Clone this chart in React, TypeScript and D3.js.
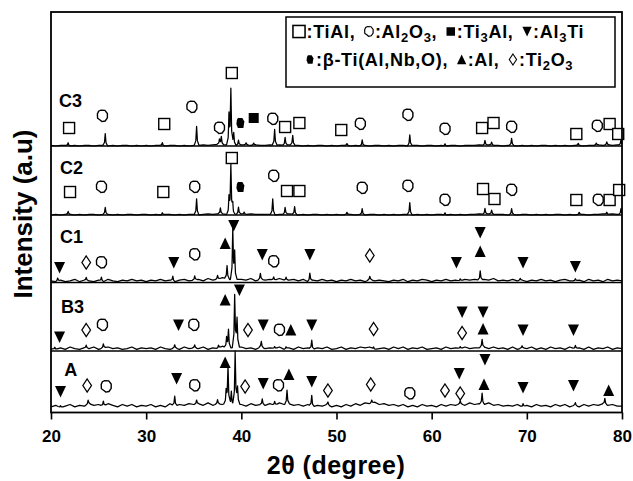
import React, { useRef, useEffect } from 'react';
import * as d3 from 'd3';

// stacked XRD patterns, top to bottom
const samples = ['C3', 'C2', 'C1', 'B3', 'A'];
const offsets = [266.5, 197.5, 130, 61.5, 4]; // vertical shift of each pattern (a.u.)
const xTicks = [20, 30, 40, 50, 60, 70, 80];

// peaks: [2theta, height]
const peaksC3 = [[21.8, 3], [25.7, 12], [31.7, 3], [35.3, 19], [37.7, 5], [37.9, 8], [38.7, 29], [38.9, 55], [39.2, 13], [39.7, 5], [40.5, 2], [41.3, 2], [43.5, 16], [44.6, 8], [45.4, 10], [51.1, 2], [52.7, 6], [57.7, 11], [61.4, 2], [65.6, 5], [66.3, 3], [68.4, 7], [75.4, 2], [77.3, 2], [78.4, 3], [79.9, 6]];
const peaksC2 = [[21.8, 3], [25.7, 7], [31.7, 2], [35.3, 16], [37.8, 6], [38.7, 16], [38.9, 48], [39.1, 9], [39.7, 7], [40.3, 2], [43.3, 16], [44.6, 7], [45.6, 8], [51.1, 2], [52.7, 6], [57.7, 12], [61.4, 2], [65.6, 6], [66.3, 4], [68.4, 6], [75.5, 2], [78.4, 2], [79.9, 6]];
const peaksC1 = [[20.7, 3], [23.7, 3], [25.3, 4], [32.8, 5], [35.1, 4], [37.5, 4], [38.5, 13], [39.1, 50], [39.3, 26], [42.0, 6], [43.4, 3], [44.7, 3], [47.2, 8], [53.5, 3], [63.0, 2], [65.1, 9], [69.3, 2], [75.1, 2]];
const peaksB3 = [[20.4, 2], [23.7, 3], [25.5, 4], [33.0, 3], [35.1, 3], [37.6, 3], [38.45, 10], [38.65, 18], [39.3, 53], [39.55, 30], [42.1, 6], [43.5, 2], [44.7, 2], [47.4, 9], [53.9, 2], [63.0, 2], [65.3, 8], [69.5, 2], [75.1, 3]];
const peaksA = [[21.0, 2], [23.9, 4], [25.5, 5], [33.0, 10], [35.3, 4], [37.5, 4], [38.4, 12], [38.6, 37], [38.95, 14], [39.35, 53], [39.6, 18], [42.2, 6], [43.5, 4], [44.8, 14], [47.4, 11], [49.1, 3], [53.7, 3], [63.0, 3], [65.3, 11], [69.6, 3], [75.1, 3], [78.2, 6]];

// baseline roughness, one digit per 0.5 deg from 20 to 80
const noiseC3 = '1011010110' + '1101011010' + '1011011010' + '1121232211' + '2212112121' + '2110101101' + '0110101011' + '0101101101' + '1010110111' + '2121101101' + '0101101010' + '1101121212' + '1';
const noiseC2 = '0101101011' + '0110101101' + '1010110101' + '1012122121' + '2121111011' + '2101011010' + '1011010110' + '1010110101' + '0110101011' + '2121110101' + '1010101101' + '0110112121' + '1';
const noiseC1 = '2131241321' + '3142132423' + '1324231342' + '3425346534' + '4352434353' + '3424132423' + '1324231423' + '2132413243' + '1324232434' + '3435232423' + '1324231342' + '2314231423' + '2';
const noiseB3 = '3242532435' + '2453423524' + '3425324253' + '4352436445' + '5342534352' + '4253424352' + '3524354523' + '4253524352' + '3425343534' + '4535342524' + '3524253425' + '3425243524' + '3';
const noiseA = '2413524364' + '5364253524' + '3524263546' + '5647465746' + '5364546475' + '6453524352' + '4253647685' + '6453524253' + '4253546475' + '6574534352' + '4253425352' + '4253546453' + '3';
const noiseScale = [0.6, 0.6, 0.8, 0.8, 0.8];

// phase marks: [phase, 2theta, height above baseline]
const marksC3 = [['TiAl', 21.9, 18], ['Al2O3', 25.4, 30], ['TiAl', 31.9, 22], ['Al2O3', 34.8, 39], ['Al2O3', 37.7, 18], ['TiAl', 39.0, 73], ['beta', 39.9, 23], ['Ti3Al', 41.3, 28], ['Al2O3', 43.3, 27], ['TiAl', 44.6, 19], ['TiAl', 46.1, 23], ['TiAl', 50.5, 16], ['Al2O3', 52.5, 22], ['Al2O3', 57.5, 31], ['Al2O3', 61.4, 17], ['TiAl', 65.3, 18], ['TiAl', 66.5, 23], ['Al2O3', 68.4, 19], ['TiAl', 75.2, 12], ['Al2O3', 77.4, 20], ['TiAl', 78.7, 22], ['TiAl', 79.6, 12]];
const marksC2 = [['TiAl', 22.0, 23], ['Al2O3', 25.3, 28], ['TiAl', 31.8, 23], ['Al2O3', 35.1, 28], ['TiAl', 39.0, 57], ['beta', 39.9, 28], ['Al2O3', 43.4, 39], ['TiAl', 44.8, 24], ['TiAl', 46.1, 24], ['Al2O3', 52.7, 27], ['Al2O3', 57.5, 29], ['Al2O3', 61.4, 15], ['TiAl', 65.4, 26], ['TiAl', 66.6, 16], ['Al2O3', 68.4, 25], ['TiAl', 75.2, 15], ['Al2O3', 77.5, 15], ['TiAl', 78.7, 15], ['TiAl', 79.7, 25]];
const marksC1 = [['Al3Ti', 20.9, 15], ['Ti2O3', 23.7, 20], ['Al2O3', 25.3, 20], ['Al3Ti', 32.9, 20], ['Al2O3', 35.1, 28], ['Al', 38.3, 39], ['Al3Ti', 39.2, 57], ['Al3Ti', 42.2, 28], ['Al2O3', 43.4, 21], ['Al3Ti', 47.2, 28], ['Ti2O3', 53.5, 27], ['Al3Ti', 62.6, 20], ['Al3Ti', 65.1, 50], ['Al', 65.1, 31], ['Al3Ti', 69.6, 20], ['Al3Ti', 75.1, 16]];
const marksB3 = [['Al3Ti', 20.9, 14], ['Ti2O3', 23.7, 21], ['Al2O3', 25.4, 26], ['Al3Ti', 33.4, 26], ['Al2O3', 35.0, 26], ['Al', 38.3, 51], ['Al3Ti', 39.8, 61], ['Ti2O3', 40.7, 21], ['Al3Ti', 42.3, 26], ['Al2O3', 44.0, 21], ['Al', 45.2, 21], ['Al3Ti', 47.4, 26], ['Ti2O3', 53.9, 22], ['Al3Ti', 63.2, 39], ['Ti2O3', 63.2, 18], ['Al3Ti', 65.4, 39], ['Al', 65.4, 22], ['Al3Ti', 69.6, 21], ['Al3Ti', 74.9, 21]];
const marksA = [['Al3Ti', 21.0, 17], ['Ti2O3', 23.8, 23], ['Al2O3', 25.8, 22], ['Al3Ti', 33.2, 30], ['Al2O3', 35.1, 23], ['Al', 38.3, 46], ['Ti2O3', 40.4, 22], ['Al3Ti', 42.3, 25], ['Al2O3', 43.9, 23], ['Al', 45.0, 34], ['Al3Ti', 47.4, 27], ['Ti2O3', 49.1, 18], ['Ti2O3', 53.6, 24], ['Al2O3', 57.7, 15], ['Ti2O3', 61.4, 18], ['Al3Ti', 62.9, 35], ['Ti2O3', 63.0, 15], ['Al3Ti', 65.6, 49], ['Al', 65.5, 24], ['Al3Ti', 69.6, 21], ['Al3Ti', 74.9, 23], ['Al', 78.6, 18]];

const allPeaks = [peaksC3, peaksC2, peaksC1, peaksB3, peaksA];
const allNoise = [noiseC3, noiseC2, noiseC1, noiseB3, noiseA];
const allMarks = [marksC3, marksC2, marksC1, marksB3, marksA];

// legend rows: [phase, label] ("_n" = subscript)
const legendRow1 = [['TiAl', ' :TiAl,'], ['Al2O3', ':Al_2O_3,'], ['Ti3Al', ':Ti_3Al,'], ['Al3Ti', ':Al_3Ti']];
const legendRow2 = [['beta', ' :β-Ti(Al,Nb,O),'], ['Al', ':Al,'], ['Ti2O3', ':Ti_2O_3']];

const FONT = '"Liberation Sans", Arial, Helvetica, sans-serif';

// draws one phase symbol centred at (cx, cy)
function drawMark(g: any, phase: string, cx: number, cy: number, s = 1) {
  const t = `translate(${cx},${cy}) scale(${s})`;
  if (phase === 'TiAl') {
    g.append('rect').attr('transform', t).attr('x', -5.5).attr('y', -5.5).attr('width', 11).attr('height', 11)
      .attr('fill', '#fff').attr('stroke', '#000').attr('stroke-width', 1.4);
  } else if (phase === 'Ti3Al') {
    g.append('rect').attr('transform', t).attr('x', -5).attr('y', -5).attr('width', 10).attr('height', 10).attr('fill', '#000');
  } else if (phase === 'Al2O3') {
    g.append('path').attr('transform', t)
      .attr('d', 'M-1.5,-5.8 L2.5,-5.6 L5,-2.5 L5,1.8 L2.8,5 L-0.5,5.6 L-2,4.2 L-4.8,2.2 L-5,-2 L-3.8,-4.8 Z')
      .attr('fill', '#fff').attr('stroke', '#000').attr('stroke-width', 1.4);
  } else if (phase === 'Al3Ti') {
    g.append('path').attr('transform', t).attr('d', 'M-5.5,-5.5 L5.5,-5.5 L0,6 Z').attr('fill', '#000');
  } else if (phase === 'Al') {
    g.append('path').attr('transform', t).attr('d', 'M-5.5,5.5 L5.5,5.5 L0,-6 Z').attr('fill', '#000');
  } else if (phase === 'Ti2O3') {
    g.append('path').attr('transform', t).attr('d', 'M0,-6.5 L4.3,0 L0,6.5 L-4.3,0 Z')
      .attr('fill', '#fff').attr('stroke', '#000').attr('stroke-width', 1.3);
  } else if (phase === 'beta') {
    g.append('path').attr('transform', t).attr('d', 'M-2.5,-5 L2,-5 L4,-1.5 L3,5 L-2.5,5 L-4,1 L-3.5,-3 Z').attr('fill', '#000');
  }
}

// shape of a single reflection, t = |d| / halfwidth
const peakShape = (t: number) => (t >= 1 ? 0 : t <= 1 / 3 ? 1 - 2.25 * t : (0.25 * (1 - t)) / (2 / 3));

const App: React.FC = () => {
  const svgRef = useRef<SVGSVGElement | null>(null);

  useEffect(() => {
    if (!svgRef.current) return;
    const svg = d3.select(svgRef.current);
    svg.selectAll('*').remove();

    const x = d3.scaleLinear().domain([20, 80]).range([51, 622]);
    const y = d3.scaleLinear().domain([0, 400.5]).range([412.5, 12]);
    const hw = 0.25;

    svg.append('rect').attr('width', 633).attr('height', 481).attr('fill', '#fff');

    // separators between stacked patterns
    offsets.slice(0, 4).forEach(o => {
      svg.append('line').attr('x1', x(20)).attr('x2', x(80)).attr('y1', y(o)).attr('y2', y(o))
        .attr('stroke', '#000').attr('stroke-width', 1.5);
    });

    const line = d3.line<number[]>().x(d => x(d[0])).y(d => y(d[1]));

    samples.forEach((name, si) => {
      const noise = allNoise[si];
      const pk = allPeaks[si];
      const off = offsets[si];
      const n = noise.length;
      const amp = noiseScale[si];
      const noiseAt = (xv: number) => {
        const f = ((xv - 20) / 60) * (n - 1);
        const i0 = Math.max(0, Math.min(n - 2, Math.floor(f)));
        const fr = f - i0;
        return (+noise[i0] * (1 - fr) + +noise[i0 + 1] * fr) * amp;
      };
      const xs = new Set<number>(d3.range(n).map(i => 20 + (60 * i) / (n - 1)));
      pk.forEach(([p]) => [-hw, -hw / 3, 0, hw / 3, hw].forEach(d => {
        const v = +(p + d).toFixed(4);
        if (v >= 20 && v <= 80) xs.add(v);
      }));
      const pts = Array.from(xs).sort((a, b) => a - b)
        .map(xv => [xv, off + noiseAt(xv) + d3.sum(pk, ([p, h]) => h * peakShape(Math.abs(xv - p) / hw))]);

      svg.append('path').attr('d', line(pts)).attr('fill', 'none').attr('stroke', '#000')
        .attr('stroke-width', 1.25).attr('stroke-linejoin', 'round');

      const mg = svg.append('g');
      allMarks[si].forEach(([ph, pos, h]) => drawMark(mg, ph as string, x(pos as number), y(off + (h as number))));
    });

    // sample labels
    const labelPos = [[20.85, 39], [20.95, 41.5], [20.95, 39.5], [21.05, 38], [21.4, 32.5]];
    samples.forEach((name, si) => {
      svg.append('text').attr('x', x(labelPos[si][0])).attr('y', y(offsets[si] + labelPos[si][1]))
        .attr('font-family', FONT).attr('font-size', 18).attr('font-weight', 'bold').text(name);
    });

    // frame and axis
    svg.append('rect').attr('x', x(20)).attr('y', y(400.5)).attr('width', x(80) - x(20)).attr('height', y(0) - y(400.5))
      .attr('fill', 'none').attr('stroke', '#000').attr('stroke-width', 1.8);

    const ax = svg.append('g').attr('transform', `translate(0,${y(0)})`)
      .call(d3.axisBottom(x).tickValues(xTicks).tickSize(7).tickPadding(10).tickSizeOuter(0).tickFormat(d3.format('d')));
    ax.select('.domain').remove();
    ax.selectAll('line').attr('stroke-width', 1.6);
    ax.attr('font-family', FONT).attr('font-size', 17).attr('font-weight', 'bold');

    svg.append('text').attr('x', 336).attr('y', 474).attr('text-anchor', 'middle')
      .attr('font-family', FONT).attr('font-size', 25).attr('font-weight', 'bold').attr('letter-spacing', 0.5)
      .text('2θ (degree)');
    svg.append('text').attr('transform', 'translate(32,214) rotate(-90)').attr('text-anchor', 'middle')
      .attr('font-family', FONT).attr('font-size', 26).attr('font-weight', 'bold').text('Intensity (a.u)');

    // legend
    svg.append('rect').attr('x', 286).attr('y', 17).attr('width', 329).attr('height', 70)
      .attr('fill', '#fff').attr('stroke', '#000').attr('stroke-width', 1.5);
    const rows = [legendRow1, legendRow2];
    const rowStart = [299, 310];
    const rowBase = [38, 66];
    rows.forEach((row, ri) => {
      let cx = rowStart[ri];
      row.forEach(([ph, label]) => {
        const half = ph === 'TiAl' ? 6 : 4.5;
        drawMark(svg, ph, cx, rowBase[ri] - 6.5, ph === 'TiAl' ? 1.1 : 0.85);
        const tx = cx + half + 1.5;
        const txt = svg.append('text').attr('x', tx).attr('y', rowBase[ri])
          .attr('font-family', FONT).attr('font-size', 18).attr('font-weight', 'bold').attr('letter-spacing', 0.7);
        const parts = label.split(/_(\d)/);
        let cur = 0;
        parts.forEach((s, j) => {
          if (!s) return;
          const target = j % 2 === 1 ? 4 : 0;
          txt.append('tspan').attr('dy', target - cur).attr('font-size', j % 2 === 1 ? 13 : 18).text(s);
          cur = target;
        });
        const len = (txt.node() as SVGTextElement).getComputedTextLength();
        cx = tx + len + 9 + 4.5;
      });
    });
  }, []);

  return <svg ref={svgRef} width={633} height={481} style={{ position: 'absolute', left: 0, top: 0 }} />;
};

export default App;
